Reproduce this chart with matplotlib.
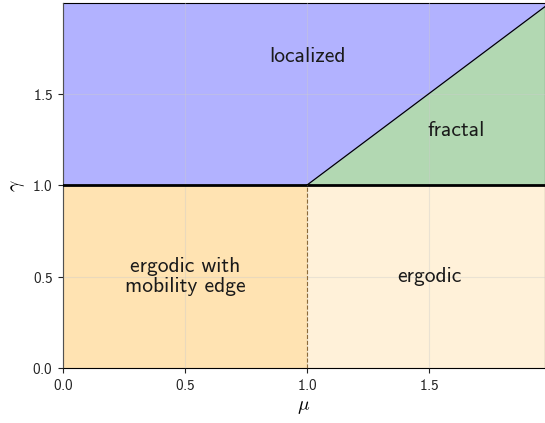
import matplotlib
matplotlib.use('Agg')
import matplotlib.pyplot as plt
import numpy as np

plt.rcParams['font.family'] = 'cmss10'
plt.rcParams['mathtext.fontset'] = 'cm'
plt.rcParams['axes.formatter.use_mathtext'] = True

# phase boundaries
mu_c = 1.0
gamma_c = 1.0
xmax = 1.975
ymax = 1.995

ticks = [0.0, 0.5, 1.0, 1.5]
labels = ['localized', 'fractal', 'ergodic', 'ergodic with\nmobility edge']
label_pos = [(1.0, 1.70), (1.61, 1.30), (1.5, 0.5), (0.5, 0.5)]

fig = plt.figure(figsize=(5.45, 4.23), dpi=100)
ax = fig.add_axes([0.1156, 0.130, 0.8844, 0.863])

# localized region (above y=max(1, mu))
ax.fill_between([0, mu_c, xmax], [gamma_c, gamma_c, xmax], ymax, color='blue', alpha=0.3, lw=0)
# fractal
ax.fill_between([mu_c, xmax], [gamma_c, gamma_c], [mu_c, xmax], color='green', alpha=0.3, lw=0)
# ergodic with mobility edge
ax.fill_between([0, mu_c], 0, gamma_c, color='orange', alpha=0.3, lw=0)
# ergodic
ax.fill_between([mu_c, xmax], 0, gamma_c, color='orange', alpha=0.15, lw=0)

ax.axhline(gamma_c, color='black', lw=2, zorder=5)
ax.plot([mu_c, xmax], [gamma_c, xmax], color='black', lw=0.9, zorder=5)
ax.plot([mu_c, mu_c], [0, gamma_c], color='#8b6a3a', lw=0.8, ls='--', zorder=5)

for t, (x, y) in zip(labels, label_pos):
    ax.text(x, y, t, ha='center', va='center', fontsize=15.5, color='#1a1a1a',
            linespacing=1.05, zorder=6)

ax.set_xlim(0, xmax)
ax.set_ylim(0, ymax)
ax.set_xticks(ticks)
ax.set_yticks(ticks)
ax.tick_params(labelsize=11, color='#222222', labelcolor='#222222')
ax.grid(True, color='#cccccc', alpha=0.4, lw=0.8, zorder=2)
ax.set_axisbelow(False)
ax.set_xlabel(r'$\mu$', fontsize=14)
ax.set_ylabel(r'$\gamma$', fontsize=14)

plt.savefig('out.png', dpi=100)
